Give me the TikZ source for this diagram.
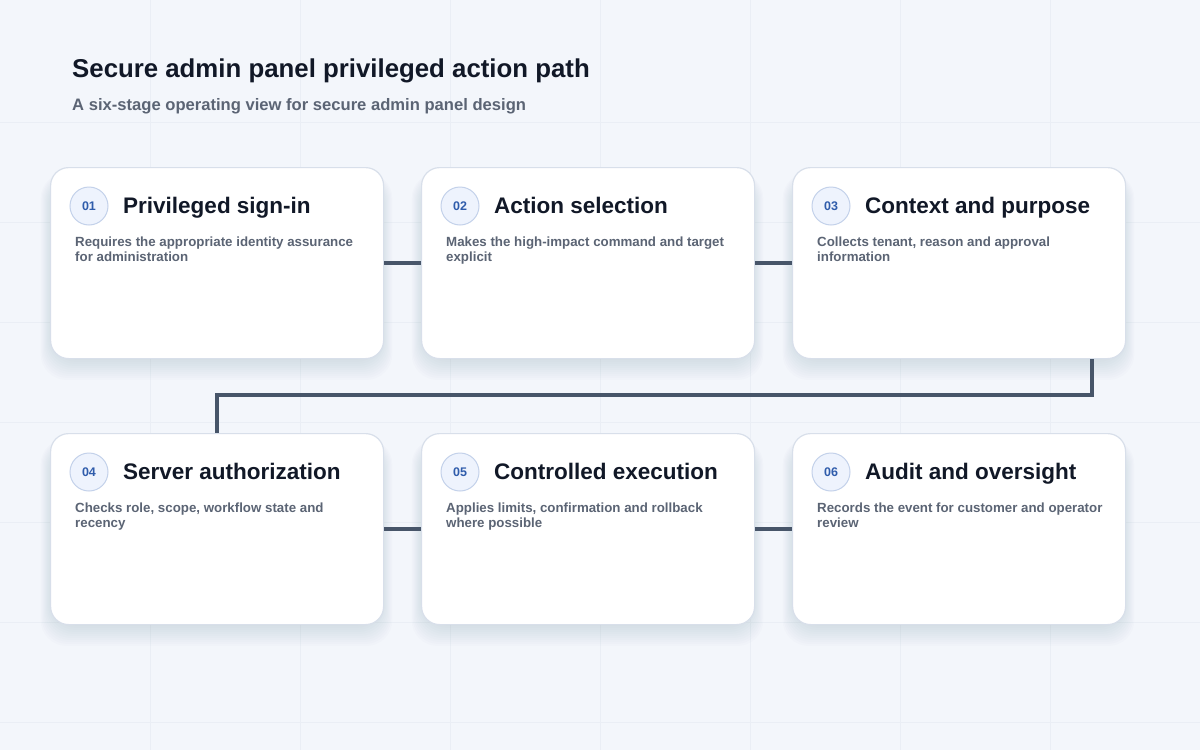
\documentclass[tikz,border=0pt]{standalone}
\usepackage{fontspec}
\setmainfont{Liberation Sans}
\usepackage{xcolor}
\usetikzlibrary{calc}
\definecolor{pagebg}{HTML}{F3F6FB}
\definecolor{gridline}{HTML}{EAEEF5}
\definecolor{cardline}{HTML}{D8DFEA}
\definecolor{shade}{HTML}{334766}
\definecolor{ink}{HTML}{111827}
\definecolor{muted}{HTML}{5B6474}
\definecolor{badgefill}{HTML}{EEF3FD}
\definecolor{badgeline}{HTML}{C3D1EA}
\definecolor{badgeink}{HTML}{2F5CAB}
\definecolor{linkcol}{HTML}{475569}

\tikzset{
  card/.style={draw=cardline, line width=1.2pt, fill=white, rounded corners=18pt,
    minimum width=333pt, minimum height=191pt, anchor=north west, inner sep=0pt},
  cardshade/.style={fill=shade, fill opacity=0.011, rounded corners=26pt},
  badge/.style={circle, draw=badgeline, line width=1pt, fill=badgefill,
    minimum size=38pt, inner sep=0pt, text=badgeink,
    font=\fontsize{12.5}{14}\selectfont\bfseries},
  stagetitle/.style={anchor=base west, inner sep=0pt, text=ink,
    font=\fontsize{22.5}{26}\selectfont\bfseries},
  stagedesc/.style={anchor=base west, inner sep=0pt, text=muted, align=left,
    font=\fontsize{13.3}{15}\selectfont\bfseries},
  link/.style={draw=linkcol, line width=3.5pt}
}

\begin{document}
\begin{tikzpicture}[x=1pt, y=-1pt]

  % Background
  \fill[pagebg] (0,0) rectangle (1200,750);
  \useasboundingbox (0,0) rectangle (1200,750);
  \foreach \gx in {150,300,...,1050} {
    \draw[gridline, line width=0.6pt] (\gx,0) -- (\gx,750);
  }
  \foreach \gy in {122,222,...,722} {
    \draw[gridline, line width=0.6pt] (0,\gy) -- (1200,\gy);
  }

  % Heading
  \node[anchor=base west, inner sep=0pt, text=ink,
    font=\fontsize{25.8}{30}\selectfont\bfseries] (title) at (72,77)
    {Secure admin panel privileged action path};
  \node[anchor=base west, inner sep=0pt, text=muted,
    font=\fontsize{16.6}{19}\selectfont\bfseries] (subtitle) at (72,110)
    {A six-stage operating view for secure admin panel design};

  % Soft shadows under the cards
  \foreach \cx/\cy in {50/167,421/167,792/167,50/433,421/433,792/433} {
    \foreach \k in {1,...,14} {
      \fill[cardshade] (\cx+6-\k*1.1,\cy+14-\k*0.6) rectangle (\cx+327+\k*1.1,\cy+185+\k*2.0);
    }
  }

  % Stage cards
  \foreach \i/\cx/\cy/\ttl/\desc in {
      1/50/167/{Privileged sign-in}/{Requires the appropriate identity assurance\\for administration},
      2/421/167/{Action selection}/{Makes the high-impact command and target\\explicit},
      3/792/167/{Context and purpose}/{Collects tenant, reason and approval\\information},
      4/50/433/{Server authorization}/{Checks role, scope, workflow state and\\recency},
      5/421/433/{Controlled execution}/{Applies limits, confirmation and rollback\\where possible},
      6/792/433/{Audit and oversight}/{Records the event for customer and operator\\review}} {
    \node[card] (c\i) at (\cx,\cy) {};
    \node[badge] (b\i) at ([xshift=39pt, yshift=-39pt]c\i.north west) {0\i};
    \node[stagetitle] (t\i) at ([xshift=73pt, yshift=-46pt]c\i.north west) {\ttl};
    \node[stagedesc] (d\i) at ([xshift=25pt, yshift=-94pt]c\i.north west) {\desc};
  }

  % Connectors
  \draw[link] (c1.east) -- (c2.west);
  \draw[link] (c2.east) -- (c3.west);
  \draw[link] ([xshift=-34pt]c3.south east) |- ([yshift=38pt]c4.north) -- (c4.north);
  \draw[link] (c4.east) -- (c5.west);
  \draw[link] (c5.east) -- (c6.west);

\end{tikzpicture}
\end{document}
